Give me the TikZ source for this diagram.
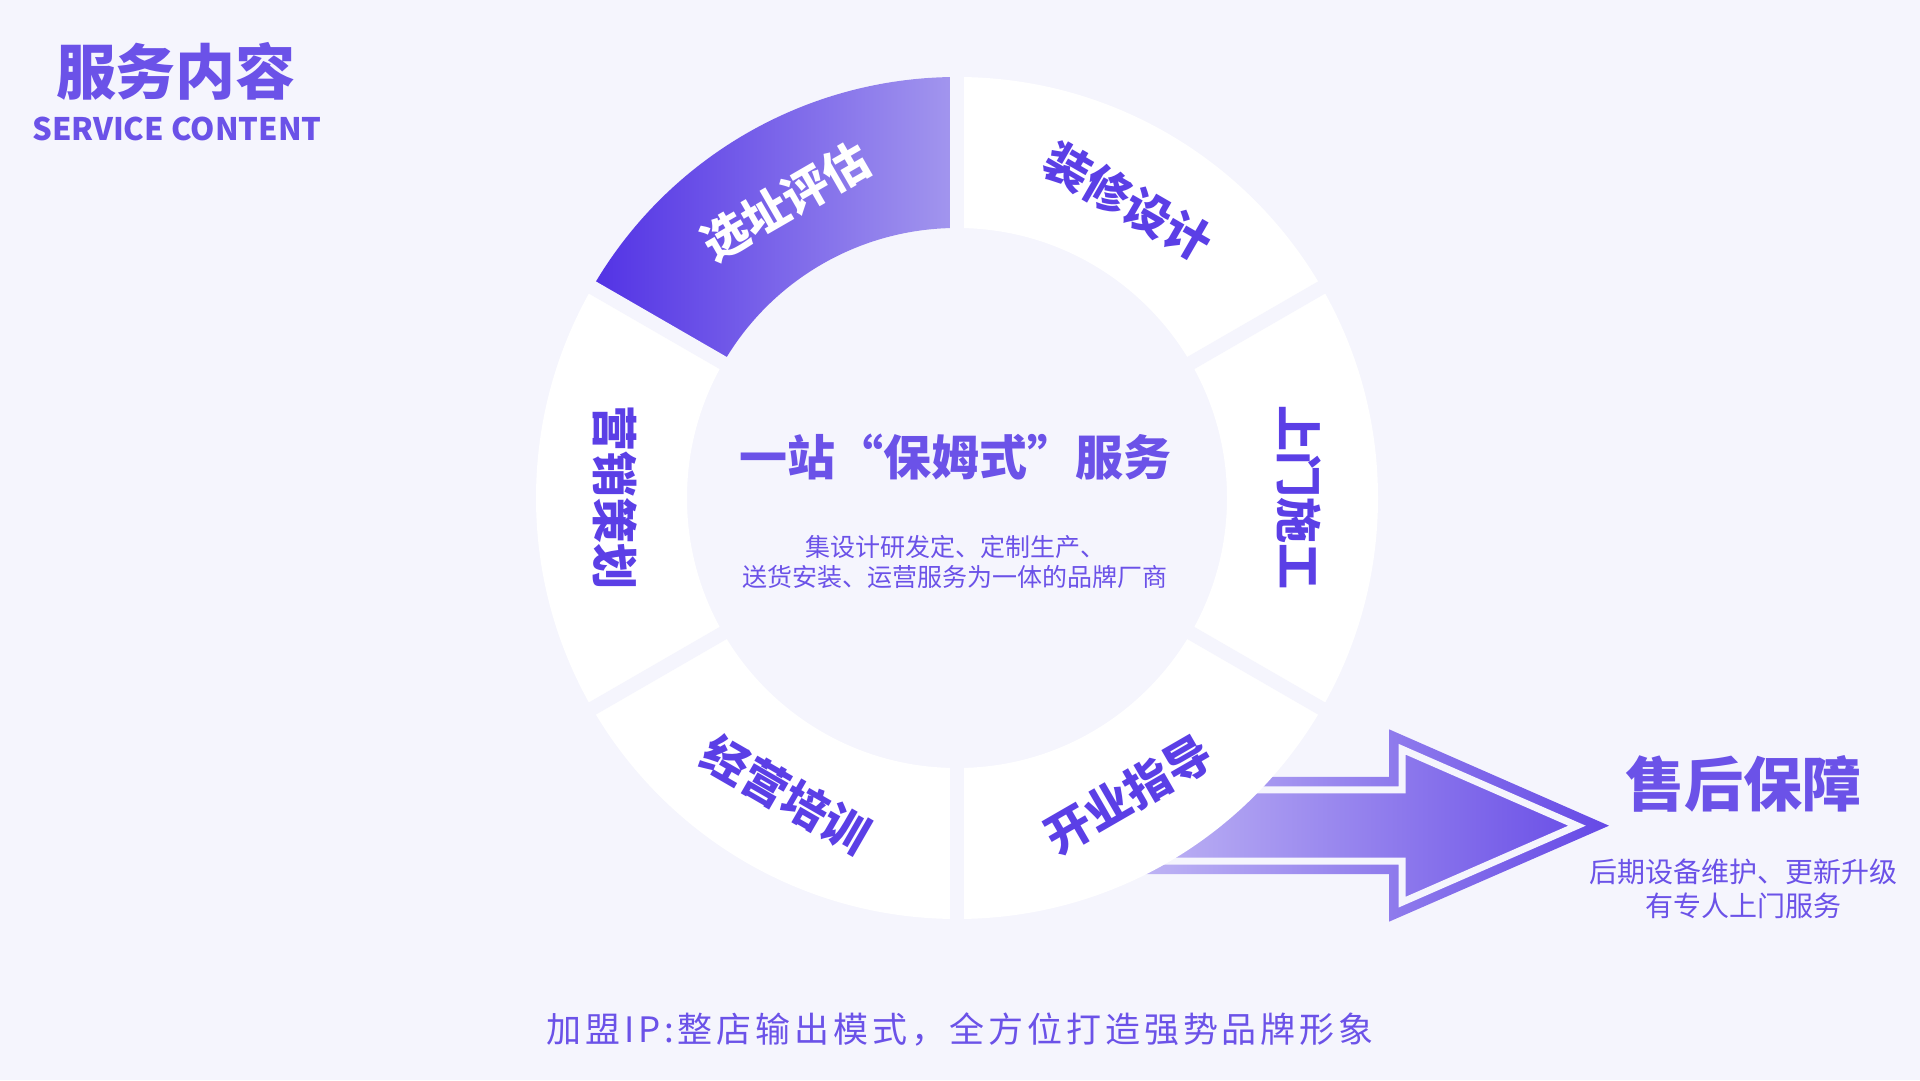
\documentclass[tikz,border=0pt]{standalone}
\usepackage{fontspec}
\setmainfont{Noto Sans CJK SC}
\usepackage{tikz}
\usepackage{xcolor}
\usetikzlibrary{calc}
\definecolor{PageBg}{HTML}{F5F5FD}
\definecolor{SegInk}{HTML}{5B3FE6}
\definecolor{HeadInk}{HTML}{6B52E8}
\definecolor{SiteDeep}{HTML}{5232E5}
\definecolor{SiteLight}{HTML}{A397EE}
\definecolor{ArrowLight}{HTML}{C4BBF5}
\definecolor{ArrowMid}{HTML}{8670EC}
\definecolor{ArrowDeep}{HTML}{6549E6}

\begin{document}
\begin{tikzpicture}[
    x=1pt, y=1pt,
    seglabel/.style={
      font=\bfseries\fontsize{46}{46}\selectfont,
      inner sep=0pt,
    },
    headline/.style={
      font=\bfseries\fontsize{60}{60}\selectfont,
      text=HeadInk,
      inner sep=0pt,
    },
    blurb/.style={
      text=HeadInk,
      inner sep=0pt,
      align=center,
    },
  ]
    % ---- page ----
    \fill[PageBg] (0,0) rectangle (1920,1080);
    \useasboundingbox (0,0) rectangle (1920,1080);
    \coordinate (C) at (957,582);

    % ---- after-sales arrow (under the ring) ----
    \shade[left color=ArrowLight, middle color=ArrowMid, right color=ArrowDeep]
      (1110,303) -- (1389,303) -- (1389,350.7) -- (1609,254.3)
      -- (1389,158.3) -- (1389,206) -- (1110,206) -- cycle;
    \draw[PageBg, line width=7pt, miter limit=20]
      (1110,290) -- (1402,290) -- (1402,330.8) -- (1577,254.3)
      -- (1402,177.8) -- (1402,219) -- (1110,219);

    % ---- ring ----
    \fill[white, even odd rule]
      (C) circle[radius=421] (C) circle[radius=270];
    \shade[left color=SiteDeep, right color=SiteLight]
      ([shift=(90:421)]C) arc[start angle=90, end angle=150, radius=421]
      -- ([shift=(150:270)]C) arc[start angle=150, end angle=90, radius=270]
      -- cycle;
    \foreach \a in {30,90,...,330} {
      \draw[PageBg, line width=14pt]
        ([shift=(\a:262)]C) -- ([shift=(\a:430)]C);
    }

    % ---- ring labels ----
    \foreach \ang/\rot/\ink/\txt in {120/30/white/选址评估,
        60/-30/SegInk/装修设计, 0/-90/SegInk/上门施工,
        -60/30/SegInk/开业指导, -120/-30/SegInk/经营培训,
        180/-90/SegInk/营销策划} {
      \node[seglabel, text=\ink, rotate=\rot] (seg\ang)
        at ([shift=(\ang:342)]C) {\txt};
    }

    % ---- centre ----
    \node[headline, font=\bfseries\fontsize{48}{48}\selectfont]
      (hub) at (955,623) {一站“保姆式”服务};
    \node[blurb, font=\fontsize{25}{30}\selectfont] (hubtxt) at (955,518)
      {集设计研发定、定制生产、\\送货安装、运营服务为一体的品牌厂商};

    % ---- title ----
    \node[headline] (title) at (176,1009) {服务内容};
    \node[headline, font=\bfseries\fontsize{31}{31}\selectfont]
      (subtitle) at (177,951) {SERVICE CONTENT};

    % ---- after-sales ----
    \node[headline, font=\bfseries\fontsize{59}{59}\selectfont]
      (care) at (1743,296) {售后保障};
    \node[blurb, font=\fontsize{28}{34}\selectfont] (caretxt) at (1743,191)
      {后期设备维护、更新升级\\有专人上门服务};

    % ---- footer ----
    \node[blurb, font=\fontsize{35}{35}\selectfont\addfontfeatures{LetterSpace=11}]
      (foot) at (960,51) {加盟IP:整店输出模式，全方位打造强势品牌形象};
  \end{tikzpicture}
\end{document}
